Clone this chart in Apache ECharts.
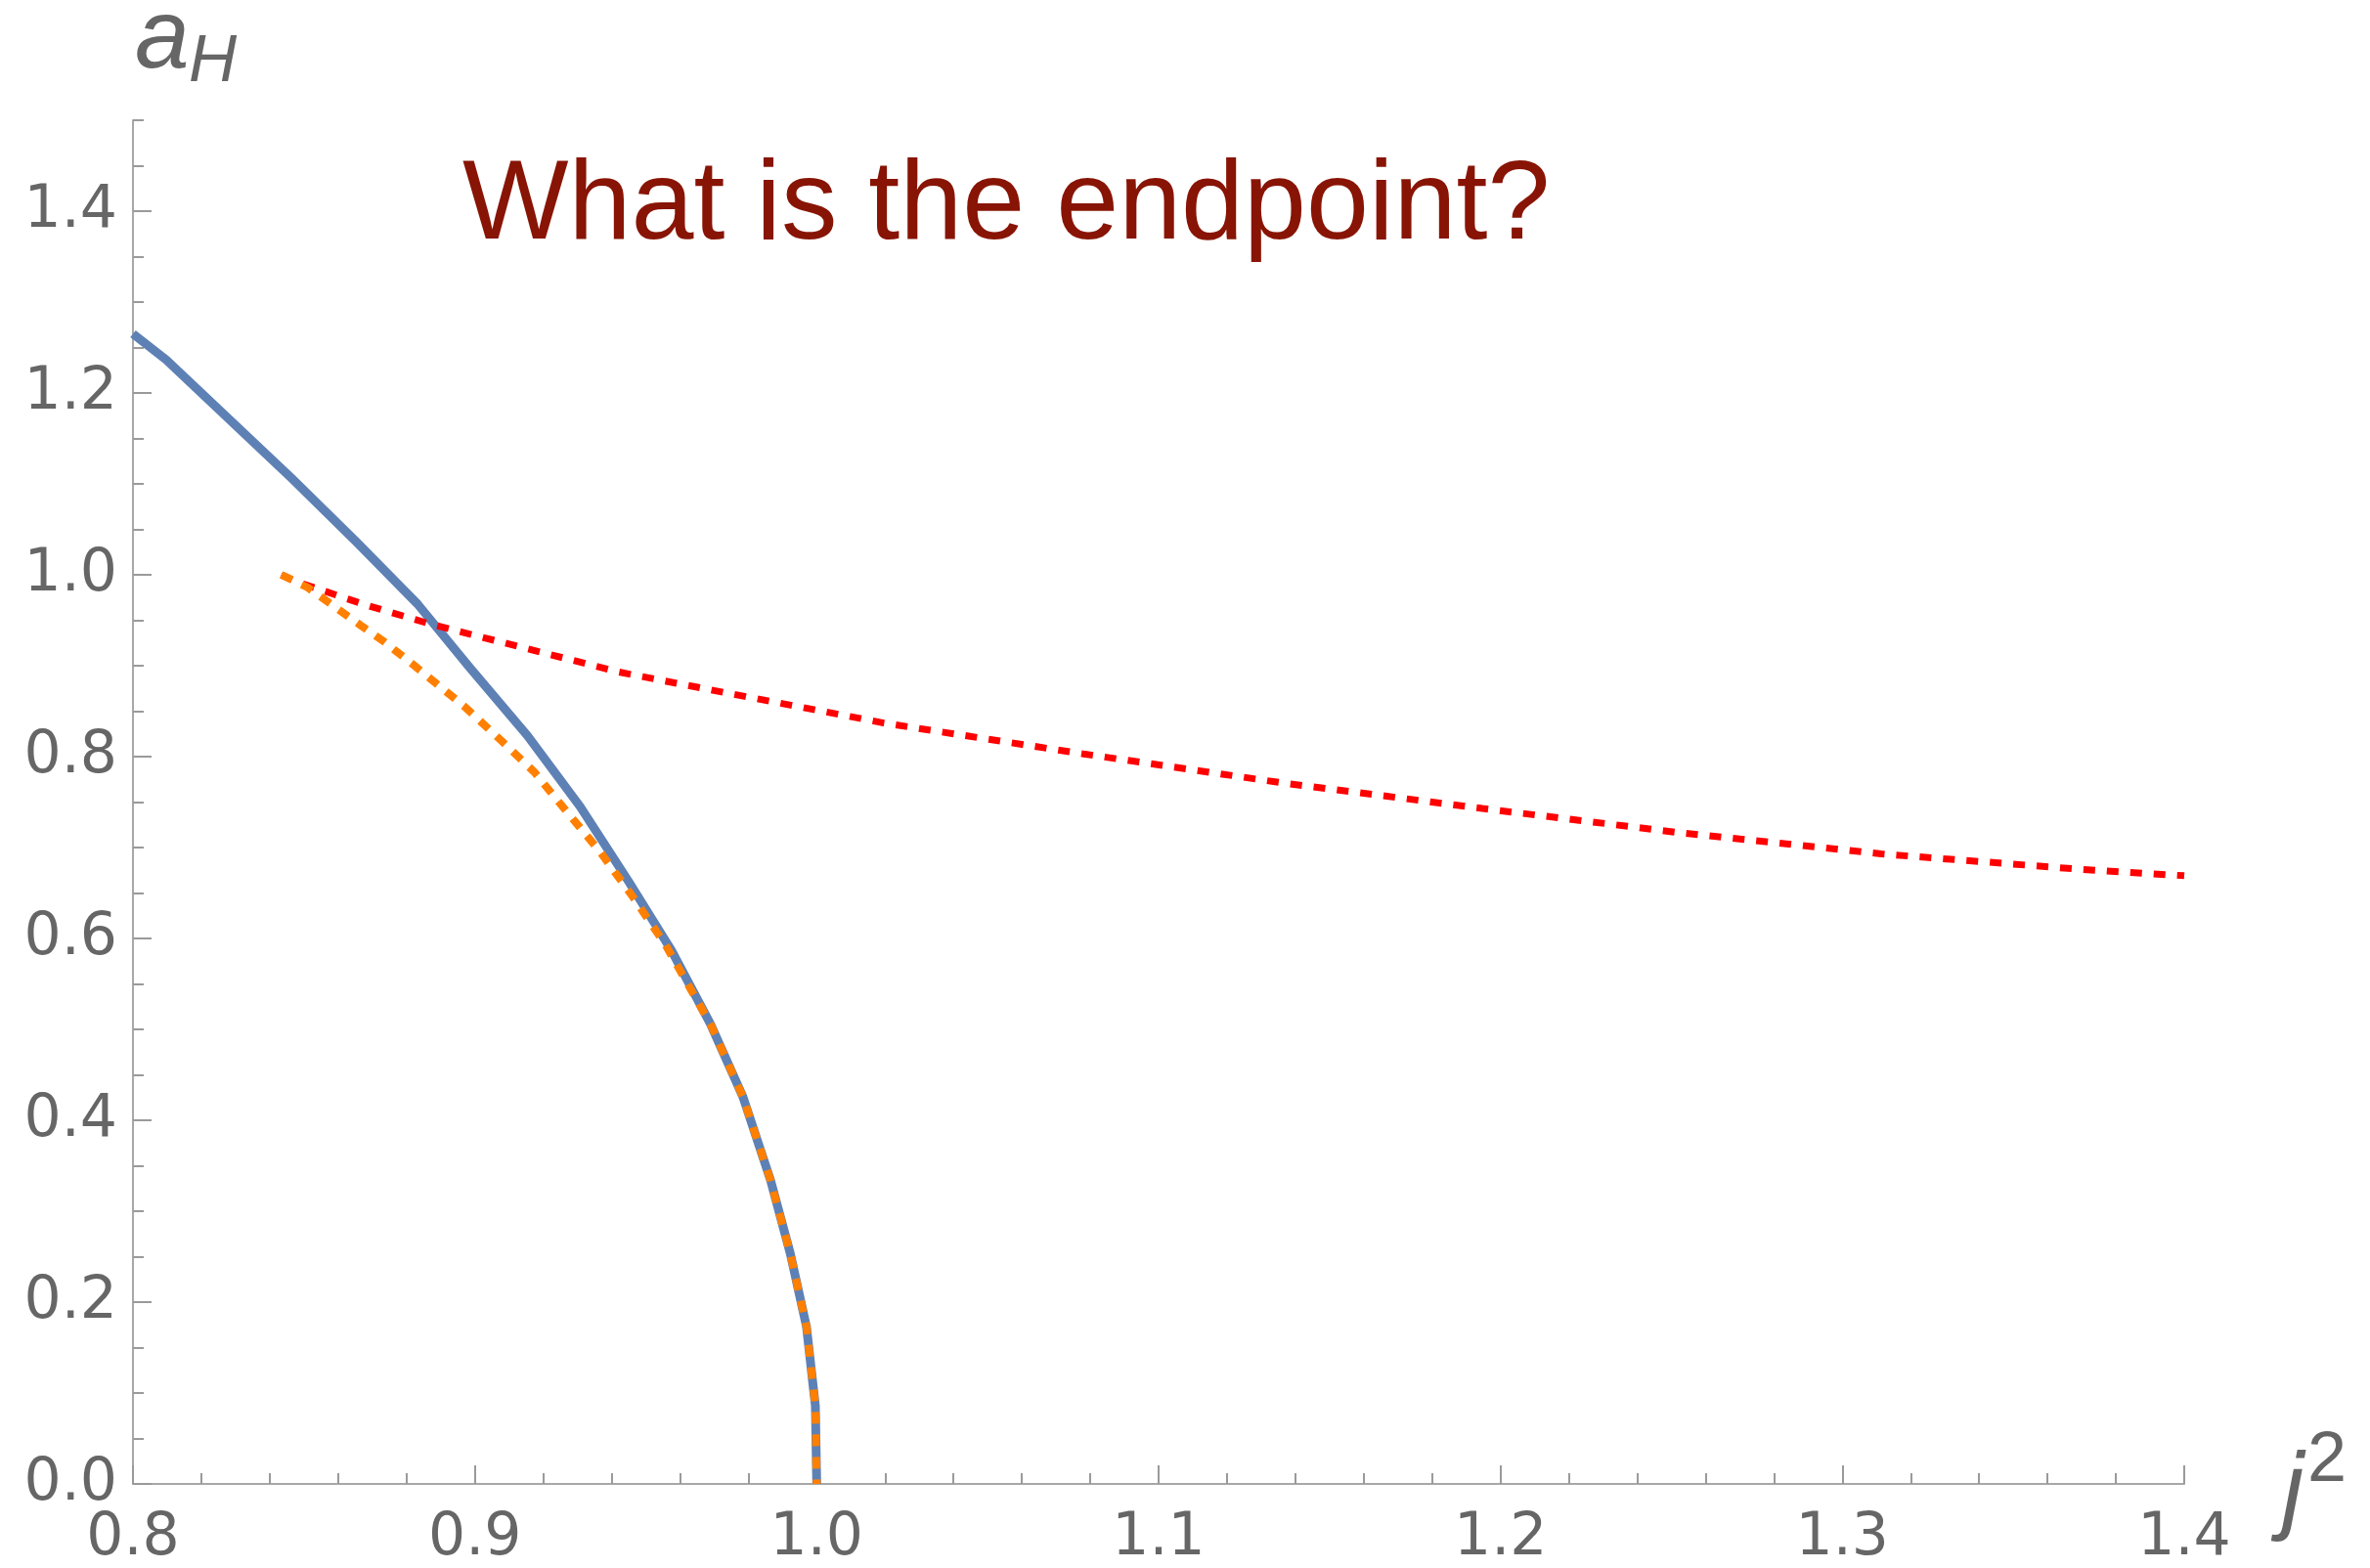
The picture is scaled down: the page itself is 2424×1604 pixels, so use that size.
<!DOCTYPE html>
<html>
<head>
<meta charset="utf-8">
<script src="https://cdn.jsdelivr.net/npm/echarts@6/dist/echarts.min.js"></script>
<style>
  html, body { margin: 0; padding: 0; background: #ffffff; }
  #chart { width: 2424px; height: 1604px; }
</style>
</head>
<body>
<div id="chart"></div>
<script>
// Horizon branch a_H versus j^2 (solid blue)
const blueCurve = [
  [0.8000, 1.265], [0.8097, 1.2365], [0.8465, 1.106], [0.8654, 1.036],
  [0.8832, 0.968], [0.8985, 0.898], [0.9154, 0.823], [0.9308, 0.745],
  [0.9451, 0.662], [0.9575, 0.587], [0.9689, 0.506], [0.9784, 0.426],
  [0.9865, 0.334], [0.9923, 0.253], [0.9970, 0.173], [0.9996, 0.086],
  [1.0000, 0.000]
];

// Approximation (orange, dashed)
const orangeCurve = [
  [0.8434, 1.000], [0.8511, 0.986], [0.8664, 0.945], [0.8736, 0.926],
  [0.8817, 0.902], [0.8970, 0.855], [0.9079, 0.817], [0.9174, 0.783],
  [0.9270, 0.739], [0.9365, 0.696], [0.9460, 0.647], [0.9556, 0.594],
  [0.9689, 0.506], [0.9784, 0.426], [0.9865, 0.334], [0.9923, 0.253],
  [0.9970, 0.173], [0.9996, 0.086], [1.0000, 0.000]
];

// Second branch (red, dashed)
const redCurve = [
  [0.8434, 1.000], [0.8474, 0.993], [0.8679, 0.967], [0.8878, 0.945],
  [0.9422, 0.893], [0.9613, 0.879], [1.0196, 0.837], [1.0780, 0.803],
  [1.1364, 0.771], [1.1947, 0.743], [1.2531, 0.716], [1.3114, 0.693],
  [1.3698, 0.676], [1.4000, 0.669]
];

const xLabelValues = [0.8, 0.9, 1.0, 1.1, 1.2, 1.3, 1.4];
const yLabelValues = [0, 0.2, 0.4, 0.6, 0.8, 1.0, 1.2, 1.4];
const titleText = 'What is the endpoint?';

const chart = echarts.init(document.getElementById('chart'), null, { renderer: 'canvas' });

const axisGray = '#a8a8a8';
const tickGray = '#9a9a9a';
const labelGray = '#666666';
const labelFont = 'DejaVu Sans';

const minorAxis = (extra) => Object.assign({
  type: 'value',
  splitLine: { show: false },
  axisLine: { show: true, onZero: false, lineStyle: { color: axisGray, width: 2 } },
  axisTick: { show: true, inside: true, length: 11, lineStyle: { color: tickGray, width: 2 } }
}, extra);

const majorAxis = (extra) => Object.assign({
  type: 'value',
  splitLine: { show: false },
  axisLine: { show: false, onZero: false },
  axisLabel: { show: false }
}, extra);

chart.setOption({
  animation: false,
  backgroundColor: '#ffffff',
  grid: { left: 136, right: 190, top: 123, bottom: 84, containLabel: false },
  xAxis: [
    minorAxis({
      min: 0.8, max: 1.4, interval: 0.02, position: 'bottom',
      axisLabel: {
        customValues: xLabelValues,
        formatter: (v) => v.toFixed(1),
        fontFamily: labelFont, fontSize: 60, color: labelGray, margin: 26
      }
    }),
    majorAxis({
      min: 0.8, max: 1.4, position: 'bottom',
      axisTick: { show: true, inside: true, length: 19, customValues: xLabelValues,
                  lineStyle: { color: tickGray, width: 2 } }
    })
  ],
  yAxis: [
    minorAxis({
      min: 0, max: 1.5, interval: 0.05, position: 'left',
      axisLabel: {
        customValues: yLabelValues,
        formatter: (v) => v.toFixed(1),
        fontFamily: labelFont, fontSize: 60, color: labelGray, margin: 16
      }
    }),
    majorAxis({
      min: 0, max: 1.5, position: 'left',
      axisTick: { show: true, inside: true, length: 19, customValues: yLabelValues,
                  lineStyle: { color: tickGray, width: 2 } }
    })
  ],
  series: [
    {
      type: 'line', data: blueCurve, showSymbol: false, symbol: 'none',
      xAxisIndex: 0, yAxisIndex: 0, z: 2,
      lineStyle: { color: '#5E81B5', width: 9, join: 'round' }
    },
    {
      type: 'line', data: redCurve, showSymbol: false, symbol: 'none',
      xAxisIndex: 0, yAxisIndex: 0, z: 3,
      lineStyle: { color: '#FF0000', width: 7, type: [12, 12] }
    },
    {
      type: 'line', data: orangeCurve, showSymbol: false, symbol: 'none',
      xAxisIndex: 0, yAxisIndex: 0, z: 4,
      lineStyle: { color: '#FF8000', width: 8, type: [12, 11] }
    }
  ],
  graphic: [
    {
      type: 'text', x: 473, y: 212, z: 10,
      style: {
        text: titleText, fill: '#881405',
        font: '115px "Liberation Sans", Arial, sans-serif',
        textAlign: 'left', textVerticalAlign: 'middle'
      }
    },
    {
      type: 'text', x: 138, y: 41, z: 10,
      style: { text: 'a', fill: labelGray, font: 'italic 100px "Liberation Sans", sans-serif',
               textAlign: 'left', textVerticalAlign: 'middle' }
    },
    {
      type: 'text', x: 193, y: 64, z: 10,
      style: { text: 'H', fill: labelGray, font: 'italic 68px "Liberation Sans", sans-serif',
               textAlign: 'left', textVerticalAlign: 'middle' }
    },
    {
      type: 'text', x: 2334, y: 1528, z: 10,
      style: { text: 'j', fill: labelGray, font: 'italic 100px "Liberation Sans", sans-serif',
               textAlign: 'left', textVerticalAlign: 'middle' }
    },
    {
      type: 'text', x: 2360, y: 1495, z: 10,
      style: { text: '2', fill: labelGray, font: '72px "Liberation Sans", sans-serif',
               textAlign: 'left', textVerticalAlign: 'middle' }
    }
  ]
});
</script>
</body>
</html>
